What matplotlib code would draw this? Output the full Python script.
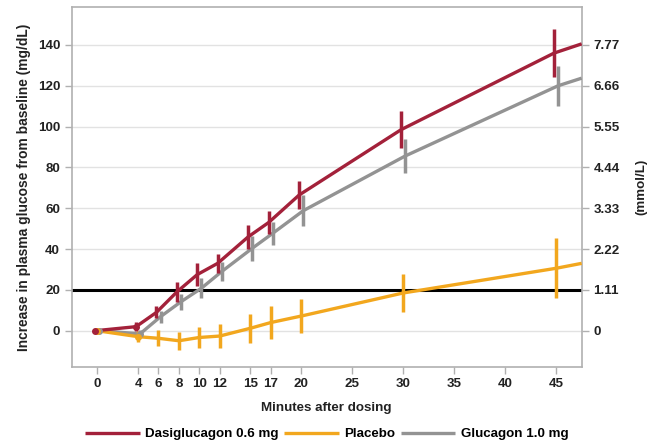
import matplotlib
matplotlib.use("Agg")
import matplotlib.pyplot as plt

plt.rcParams['font.family'] = ['Liberation Sans', 'DejaVu Sans']
plt.rcParams['font.weight'] = 'bold'

# minutes after dosing
minutes = [0, 4, 6, 8, 10, 12, 15, 17, 20, 30, 45]
# where the lines meet the right edge of the plot
end_minute = 47.5

# increase in plasma glucose (mg/dL), mean and half error bar
dasi_mean = [0, 2, 9, 19, 27.5, 33, 46, 53, 66.5, 98.5, 136]
dasi_err = [0, 2.2, 3, 5, 5.7, 4.5, 6, 5.5, 7, 9, 11.8]
dasi_end = 140.5

placebo_mean = [0, -2.9, -3.7, -4.9, -3.3, -2.6, 1.2, 4, 7.2, 18.5, 30.6]
placebo_err = [0, 2.8, 4, 4.5, 5.3, 6, 7, 8, 8.5, 9.5, 14.7]
placebo_end = 33

gluc_mean = [0, -1.5, 6.9, 14.2, 20.8, 29, 40.4, 47.7, 58.8, 85.6, 120]
gluc_err = [0, 2, 3, 4, 5, 4.5, 6, 5.7, 7.5, 8.5, 9.8]
gluc_end = 123.7

x_ticks = [0, 4, 6, 8, 10, 12, 15, 17, 20, 25, 30, 35, 40, 45]
y_ticks = [0, 20, 40, 60, 80, 100, 120, 140]
mmol_labels = ["0", "1.11", "2.22", "3.33", "4.44", "5.55", "6.66", "7.77"]

series = [
	("Dasiglucagon 0.6 mg", dasi_mean, dasi_err, dasi_end, "#A3213A", -0.2),
	("Placebo", placebo_mean, placebo_err, placebo_end, "#F2A71E", 0.0),
	("Glucagon 1.0 mg", gluc_mean, gluc_err, gluc_end, "#939393", 0.2),
]

spine_col = "#b0b0b0"
text_col = "#222222"
fs = 9.6

fig = plt.figure(figsize=(6.47, 4.45), dpi=100)
ax = fig.add_axes([0.111, 0.176, 0.788, 0.808])

ax.set_xlim(-2.5, 47.5)
ax.set_ylim(-17.6, 158.5)

for y in y_ticks:
	ax.axhline(y, color="#e2e2e2", lw=1.0, zorder=0)
ax.axhline(20, color="black", lw=2.2, zorder=1)

# draw in reverse so dasiglucagon sits on top
for name, mean, err, end, col, dx in reversed(series):
	xs = [m + dx for m in minutes]
	ax.plot(xs + [end_minute], mean + [end], color=col, lw=2.4, zorder=3,
			label=name, solid_capstyle='butt')
	ax.errorbar(xs, mean, yerr=err, fmt='none', ecolor=col, elinewidth=2.5,
				capsize=0, zorder=3)
	ax.plot(xs[:2], mean[:2], 'o', color=col, ms=4, zorder=4)

ax.set_xticks(x_ticks)
ax.set_yticks(y_ticks)
ax.tick_params(axis='both', colors=spine_col, labelcolor=text_col, labelsize=fs,
			   length=5, width=1)
for s in ax.spines.values():
	s.set_color(spine_col)
	s.set_linewidth(1.2)

ax.set_xlabel("Minutes after dosing", fontsize=fs, fontweight='bold', color=text_col, labelpad=8)
ax.set_ylabel("Increase in plasma glucose from baseline (mg/dL)", fontsize=9.9,
			  fontweight='bold', color=text_col, labelpad=5)

ax2 = ax.twinx()
ax2.set_ylim(ax.get_ylim())
ax2.set_yticks(y_ticks)
ax2.set_yticklabels(mmol_labels)
ax2.tick_params(axis='y', colors=spine_col, labelcolor=text_col, labelsize=fs,
				length=5, width=1)
for s in ax2.spines.values():
	s.set_visible(False)
ax2.set_ylabel("(mmol/L)", fontsize=fs, fontweight='bold', color=text_col, labelpad=11)

handles, labels = ax.get_legend_handles_labels()
order = [labels.index(s[0]) for s in series]
fig.legend([handles[i] for i in order], [labels[i] for i in order],
		   loc='center', bbox_to_anchor=(0.505, 0.024), ncol=3, frameon=False,
		   fontsize=fs, handlelength=4.1, handletextpad=0.4, columnspacing=0.4)

fig.savefig("out.png", dpi=100)
